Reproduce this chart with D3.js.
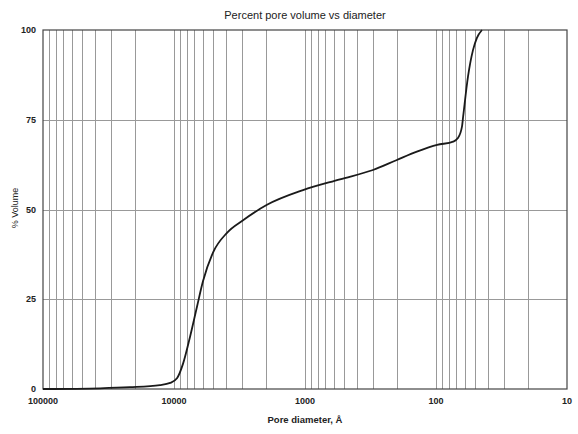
<!DOCTYPE html>
<html lang="en">
<head>
    <meta charset="UTF-8">
    <title>Percent pore volume vs diameter</title>
    <script src="https://d3js.org/d3.v7.min.js"></script>
    <style>
        body {
            margin: 0;
            background: #fff;
        }
        svg {
            font-family: "Liberation Sans", Arial, sans-serif;
        }
        .grid line {
            stroke: #999;
            stroke-width: 1;
        }
        .tick-label {
            font-size: 9px;
            font-weight: bold;
            fill: #222;
        }
    </style>
</head>
<body>
    <svg width="578" height="434"></svg>
    <script>
        // pore diameter (Angstrom) and cumulative % volume
        const diameters = [100000, 36700, 21700, 12800, 10700, 9490, 8540, 7550, 6670, 6010, 5040, 3940,
            2970, 1950, 1035, 541, 303, 199, 140, 98, 74, 68, 63.4, 62, 57, 52.2, 48.7, 44.6];
        const volumes = [0, 0.2, 0.5, 1.1, 1.7, 3, 7, 14.5, 23, 30, 38, 43.5,
            47, 51.3, 55.4, 58.4, 61, 63.8, 66.1, 68, 68.9, 69.9, 73, 76, 87, 94.4, 97.8, 100];

        const xTicks = [100000, 10000, 1000, 100, 10];
        const yTicks = [0, 25, 50, 75, 100];

        const width = 578;
        const height = 434;
        const margin = {top: 30, right: 11, bottom: 45, left: 43};

        const svg = d3.select('svg');

        const x = d3.scaleLog()
            .domain([100000, 10])
            .range([margin.left, width - margin.right]);

        const y = d3.scaleLinear()
            .domain([0, 100])
            .range([height - margin.bottom, margin.top]);

        // minor vertical grid: 2..9 in every decade
        const minor = [];
        for (let dec = 10; dec < 100000; dec *= 10) {
            for (let k = 2; k <= 9; k++) minor.push(dec * k);
        }

        const grid = svg.append('g').attr('class', 'grid');

        grid.selectAll('.vx')
            .data(minor.concat(xTicks.slice(1, -1)))
            .enter().append('line')
            .attr('x1', d => Math.round(x(d)) + 0.5)
            .attr('x2', d => Math.round(x(d)) + 0.5)
            .attr('y1', y(0))
            .attr('y2', y(100));

        grid.selectAll('.hy')
            .data(yTicks.slice(1, -1))
            .enter().append('line')
            .attr('x1', x(100000))
            .attr('x2', x(10))
            .attr('y1', d => Math.round(y(d)) + 0.5)
            .attr('y2', d => Math.round(y(d)) + 0.5);

        // frame
        svg.append('rect')
            .attr('x', x(100000))
            .attr('y', y(100))
            .attr('width', x(10) - x(100000))
            .attr('height', y(0) - y(100))
            .attr('fill', 'none')
            .attr('stroke', '#444')
            .attr('stroke-width', 1.2);

        // curve
        const pts = diameters.map((d, i) => [d, volumes[i]]);
        svg.append('path')
            .datum(pts)
            .attr('fill', 'none')
            .attr('stroke', '#1a1a1a')
            .attr('stroke-width', 1.8)
            .attr('d', d3.line()
                .x(d => x(d[0]))
                .y(d => y(d[1]))
                .curve(d3.curveMonotoneX));

        // axis labels
        svg.append('g')
            .selectAll('text')
            .data(yTicks)
            .enter().append('text')
            .attr('class', 'tick-label')
            .attr('x', margin.left - 7)
            .attr('y', d => y(d) + 3)
            .attr('text-anchor', 'end')
            .text(d => d);

        svg.append('g')
            .selectAll('text')
            .data(xTicks)
            .enter().append('text')
            .attr('class', 'tick-label')
            .attr('x', d => x(d))
            .attr('y', y(0) + 15)
            .attr('text-anchor', 'middle')
            .text(d => d);

        svg.append('text')
            .attr('x', 305)
            .attr('y', 19)
            .attr('text-anchor', 'middle')
            .attr('font-size', 11)
            .attr('fill', '#222')
            .text('Percent pore volume vs diameter');

        svg.append('text')
            .attr('x', 305)
            .attr('y', 423)
            .attr('text-anchor', 'middle')
            .attr('font-size', 9.5)
            .attr('font-weight', 'bold')
            .attr('fill', '#222')
            .text('Pore diameter, Å');

        svg.append('text')
            .attr('transform', 'translate(18,208) rotate(-90)')
            .attr('text-anchor', 'middle')
            .attr('font-size', 9)
            .attr('fill', '#222')
            .text('% Volume');
    </script>
</body>
</html>
